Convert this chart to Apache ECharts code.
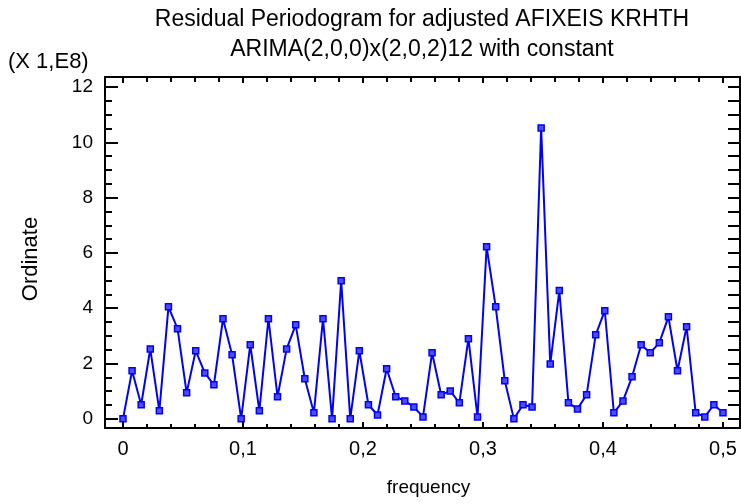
<!DOCTYPE html>
<html>
<head>
<meta charset="utf-8">
<script src="https://cdn.jsdelivr.net/npm/echarts@6/dist/echarts.min.js"></script>
<style>
html,body{margin:0;padding:0;background:#fff;}
#chart{width:741px;height:504px;}
</style>
</head>
<body>
<div id="chart"></div>
<script>
// ---- data ----
var titleLines = ['Residual Periodogram for adjusted AFIXEIS KRHTH', 'ARIMA(2,0,0)x(2,0,2)12 with constant'];
var yScaleNote = '(X 1,E8)';
var xName = 'frequency';
var yName = 'Ordinate';
var nObs = 132;
var ordinate = [
  0, 1.74, 0.51, 2.53, 0.29, 4.05, 3.26, 0.94, 2.46, 1.66,
  1.23, 3.62, 2.32, 0, 2.68, 0.29, 3.62, 0.80, 2.53, 3.40,
  1.45, 0.22, 3.62, 0, 4.99, 0, 2.46, 0.51, 0.14, 1.81,
  0.80, 0.65, 0.43, 0.07, 2.39, 0.87, 1.01, 0.58, 2.90, 0.07,
  6.22, 4.05, 1.38, 0, 0.51, 0.43, 10.52, 1.98, 4.64, 0.58,
  0.36, 0.87, 3.04, 3.91, 0.22, 0.65, 1.52, 2.68, 2.39, 2.75,
  3.69, 1.74, 3.33, 0.22, 0.07, 0.51, 0.22
];
var xMajorTicks = [0, 0.1, 0.2, 0.3, 0.4, 0.5];
var xMinorTicks = [0.02,0.04,0.06,0.08,0.12,0.14,0.16,0.18,0.22,0.24,0.26,0.28,0.32,0.34,0.36,0.38,0.42,0.44,0.46,0.48,0.52];
var yMajorTicks = [0, 2, 4, 6, 8, 10, 12];
var yMinorTicks = [0.5,1,1.5,2.5,3,3.5,4.5,5,5.5,6.5,7,7.5,8.5,9,9.5,10.5,11,11.5];

// ---- build ----
var points = ordinate.map(function (v, k) { return [k / nObs, v]; });
var FONT = 'Liberation Sans, Arial, Helvetica, sans-serif';
var X_MIN = -0.015, X_MAX = 0.5142, Y_MIN = -0.33, Y_MAX = 12.36;
function fmtX(v) { return (Math.round(v * 10) / 10).toString().replace('.', ','); }

function xAx(pos, ticks, len, withLabel, withLine) {
  return {
    type: 'value', position: pos, min: X_MIN, max: X_MAX,
    axisLine: { show: withLine, onZero: false, lineStyle: { color: '#000', width: 2 } },
    axisTick: { show: true, inside: true, length: len, customValues: ticks, lineStyle: { color: '#000', width: 2 } },
    axisLabel: withLabel ? { show: true, customValues: xMajorTicks, formatter: fmtX, color: '#000', fontSize: 20, fontFamily: FONT, margin: 11 } : { show: false },
    splitLine: { show: false },
    name: withLabel ? xName : '', nameLocation: 'middle', nameGap: 50,
    nameTextStyle: { color: '#000', fontSize: 19, fontFamily: FONT, padding: [0, 0, 0, 12] }
  };
}
function yAx(pos, ticks, len, withLabel, withLine) {
  return {
    type: 'value', position: pos, min: Y_MIN, max: Y_MAX,
    axisLine: { show: withLine, onZero: false, lineStyle: { color: '#000', width: 2 } },
    axisTick: { show: true, inside: true, length: len, customValues: ticks, lineStyle: { color: '#000', width: 2 } },
    axisLabel: withLabel ? { show: true, customValues: yMajorTicks, color: '#000', fontSize: 19, fontFamily: FONT, margin: 12 } : { show: false },
    splitLine: { show: false },
    name: '', nameLocation: 'middle'
  };
}

var chart = echarts.init(document.getElementById('chart'), null, { renderer: 'canvas' });
chart.setOption({
  backgroundColor: '#fff',
  animation: false,
  grid: { left: 105, right: 1, top: 77, bottom: 76, containLabel: false },
  graphic: [
    { type: 'text', x: 422, y: 20, style: { text: titleLines[0], font: '23px ' + FONT, fill: '#000', textAlign: 'center', textVerticalAlign: 'middle' } },
    { type: 'text', x: 422, y: 50, style: { text: titleLines[1], font: '23px ' + FONT, fill: '#000', textAlign: 'center', textVerticalAlign: 'middle' } },
    { type: 'text', x: 8, y: 62, style: { text: yScaleNote, font: '22px ' + FONT, fill: '#000', textAlign: 'left', textVerticalAlign: 'middle' } },
    { type: 'text', x: 31, y: 259, rotation: Math.PI / 2, style: { text: yName, font: '22px ' + FONT, fill: '#000', textAlign: 'center', textVerticalAlign: 'middle' } }
  ],
  xAxis: [
    xAx('bottom', xMajorTicks, 6, true, true),
    xAx('bottom', xMinorTicks, 4, false, false),
    xAx('top', xMajorTicks, 6, false, true),
    xAx('top', xMinorTicks, 5, false, false)
  ],
  yAxis: [
    yAx('left', yMajorTicks, 13, true, true),
    yAx('left', yMinorTicks, 7, false, false),
    yAx('right', yMajorTicks, 12, false, true),
    yAx('right', yMinorTicks, 12, false, false)
  ],
  series: [{
    type: 'line', xAxisIndex: 0, yAxisIndex: 0, data: points,
    symbol: 'rect', symbolSize: 6, showSymbol: true,
    lineStyle: { color: '#0000ff', width: 2 },
    itemStyle: { color: '#4d4dff', borderColor: '#0000ff', borderWidth: 1.5 }
  }]
});
</script>
</body>
</html>
